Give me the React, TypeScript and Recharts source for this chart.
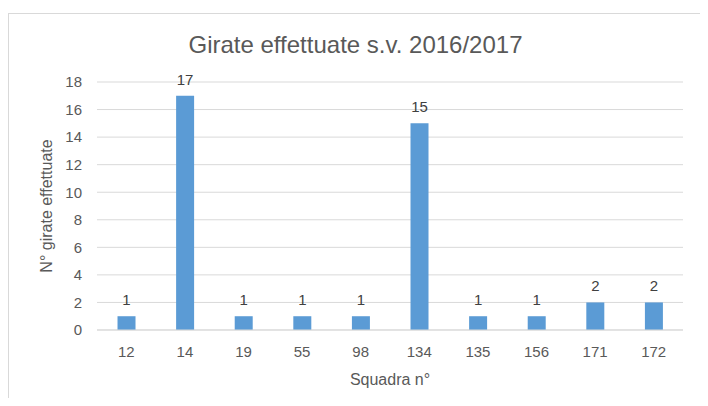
import { BarChart, Bar, XAxis, YAxis, CartesianGrid, LabelList } from 'recharts'

const squadre = ['12', '14', '19', '55', '98', '134', '135', '156', '171', '172']
const girate = [1, 17, 1, 1, 1, 15, 1, 1, 2, 2]
const yTicks = [0, 2, 4, 6, 8, 10, 12, 14, 16, 18]

const data = squadre.map((s, i) => ({ squadra: s, girate: girate[i] }))

const FONT = '"Liberation Sans", Arial, sans-serif'

export default function App() {
  return (
    <div
      style={{
        position: 'relative',
        marginTop: 5,
        width: 693,
        height: 384,
        border: '1px solid #d9d9d9',
        borderBottom: 'none',
        fontFamily: FONT,
        background: '#fff',
      }}
    >
      <div
        style={{
          position: 'absolute',
          top: 17,
          left: 0,
          width: 693,
          textAlign: 'center',
          fontSize: 24,
          color: '#595959',
        }}
      >
        Girate effettuate s.v. 2016/2017
      </div>
      <BarChart
        width={693}
        height={384}
        data={data}
        margin={{ top: 68, right: 19, bottom: 8, left: 10 }}
        barCategoryGap='35%'
      >
        <CartesianGrid vertical={false} stroke='#d9d9d9' />
        <XAxis
          dataKey='squadra'
          height={60}
          axisLine={{ stroke: '#d9d9d9' }}
          tickLine={false}
          tickSize={6}
          tickMargin={10}
          tick={{ fill: '#595959', fontSize: 15, fontFamily: FONT }}
          label={{
            value: 'Squadra n°',
            position: 'insideBottom',
            offset: 5,
            fill: '#595959',
            fontSize: 16,
            fontFamily: FONT,
          }}
        />
        <YAxis
          width={78}
          domain={[0, 18]}
          ticks={yTicks}
          axisLine={false}
          tickLine={false}
          tickSize={6}
          tickMargin={9}
          tick={{ fill: '#595959', fontSize: 15, fontFamily: FONT }}
          label={{
            value: 'N° girate effettuate',
            angle: -90,
            position: 'insideLeft',
            offset: 27,
            fill: '#595959',
            fontSize: 16,
            fontFamily: FONT,
            style: { textAnchor: 'middle' },
          }}
        />
        <Bar dataKey='girate' fill='#5b9bd5' isAnimationActive={false}>
          <LabelList
            dataKey='girate'
            position='top'
            offset={11}
            fill='#404040'
            fontSize={15}
            fontFamily={FONT}
          />
        </Bar>
      </BarChart>
    </div>
  )
}
